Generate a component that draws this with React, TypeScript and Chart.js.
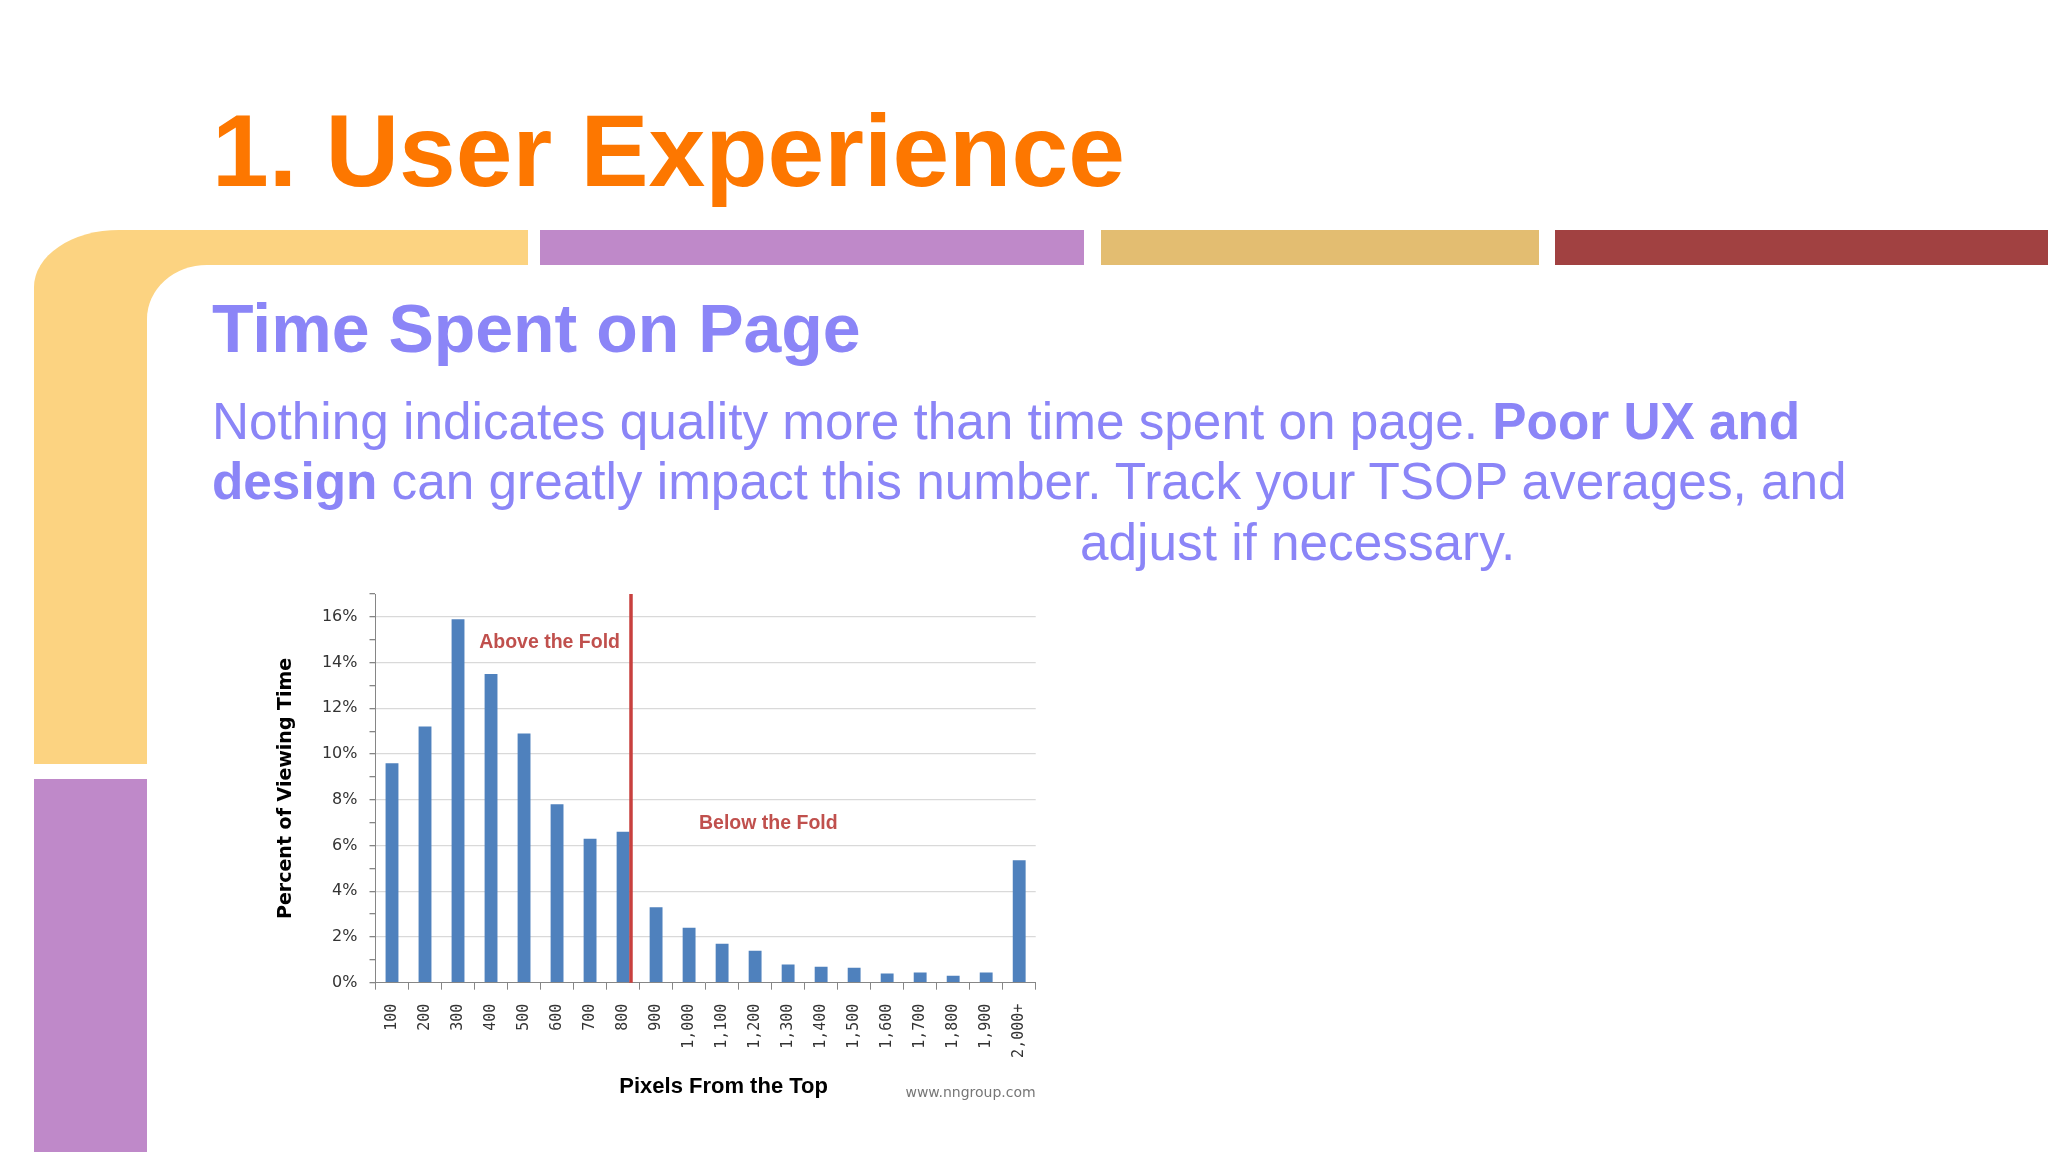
import React, { useEffect, useRef } from 'react';
import { Chart, registerables } from 'chart.js';

Chart.register(...registerables);

// ---- data ----
const categories = ['100', '200', '300', '400', '500', '600', '700', '800', '900', '1,000', '1,100', '1,200', '1,300', '1,400', '1,500', '1,600', '1,700', '1,800', '1,900', '2,000+'];
const viewingTimePct = [9.6, 11.2, 15.9, 13.5, 10.9, 7.8, 6.3, 6.6, 3.3, 2.4, 1.7, 1.4, 0.8, 0.7, 0.65, 0.4, 0.45, 0.3, 0.45, 5.35];
const yTickValues = [0, 2, 4, 6, 8, 10, 12, 14, 16];
const yAxisMax = 17;
const foldLinePixels = 824; // fold position, in pixels from the top of the page
const xAxisTitle = 'Pixels From the Top';
const yAxisTitle = 'Percent of Viewing Time';
const aboveLabel = 'Above the Fold';
const belowLabel = 'Below the Fold';
const sourceLabel = 'www.nngroup.com';

// ---- colours ----
const BAR = '#4f81bd';
const FOLD = '#c8403e';
const FOLD_TEXT = '#c0504d';
const AXIS = '#868686';
const GRID = '#d9d9d9';
const TEXT = '#333333';
const LAV = '#8b85f7';

const foldPlugin = {
  id: 'foldPlugin',
  afterDatasetsDraw(chart: any) {
    const { ctx, chartArea, scales } = chart;
    const x = scales.x.getPixelForValue((foldLinePixels - 100) / 100);
    ctx.save();
    ctx.strokeStyle = FOLD;
    ctx.lineWidth = 3.5;
    ctx.beginPath();
    ctx.moveTo(x, chartArea.top);
    ctx.lineTo(x, chartArea.bottom);
    ctx.stroke();

    ctx.fillStyle = FOLD_TEXT;
    ctx.font = 'bold 19.5px "Liberation Sans", Arial, sans-serif';
    ctx.textBaseline = 'alphabetic';
    ctx.textAlign = 'right';
    ctx.fillText(aboveLabel, x - 11, scales.y.getPixelForValue(14.65));
    ctx.textAlign = 'left';
    ctx.fillText(belowLabel, x + 68, scales.y.getPixelForValue(6.72));
    ctx.restore();
  },
  afterDraw(chart: any) {
    const { ctx, chartArea } = chart;
    ctx.save();
    ctx.fillStyle = '#000';
    ctx.font = 'bold 22px "Liberation Sans", Arial, sans-serif';
    ctx.textAlign = 'center';
    ctx.textBaseline = 'alphabetic';
    ctx.fillText(xAxisTitle, (chartArea.left + chartArea.right) / 2 + 18, chartArea.bottom + 110);
    ctx.fillStyle = '#777';
    ctx.font = '14px "DejaVu Sans", sans-serif';
    ctx.textAlign = 'right';
    ctx.fillText(sourceLabel, chartArea.right, chartArea.bottom + 114);
    ctx.restore();
  },
};

function ViewingTimeChart() {
  const canvasRef = useRef<HTMLCanvasElement>(null);
  useEffect(() => {
    const chart = new Chart(canvasRef.current as HTMLCanvasElement, {
      type: 'bar',
      data: {
        labels: categories,
        datasets: [
          {
            data: viewingTimePct,
            backgroundColor: BAR,
            borderWidth: 0,
            barPercentage: 0.39,
            categoryPercentage: 1,
          },
        ],
      },
      options: {
        animation: false,
        responsive: false,
        devicePixelRatio: 1,
        layout: { padding: { left: 0, right: 24.3, top: 14, bottom: 0 } },
        plugins: { legend: { display: false }, title: { display: false }, tooltip: { enabled: false } },
        scales: {
          x: {
            type: 'category',
            afterFit: (s: any) => { s.height = 137.3; },
            grid: { display: true, drawOnChartArea: false, drawTicks: true, tickLength: 7, tickColor: AXIS, offset: true },
            border: { display: true, color: AXIS, width: 1 },
            ticks: {
              autoSkip: false,
              minRotation: 90,
              maxRotation: 90,
              padding: 14,
              color: TEXT,
              font: { family: '"DejaVu Sans Mono", "Liberation Mono", monospace', size: 15 },
            },
          },
          y: {
            min: 0,
            max: yAxisMax,
            afterFit: (s: any) => {
              s.width = 115.5;
              s.paddingTop = 0;
              s.paddingBottom = 0;
            },
            grid: {
              color: (c: any) => (c.tick && c.tick.value !== 0 && yTickValues.includes(c.tick.value) ? GRID : 'rgba(0,0,0,0)'),
              tickColor: AXIS,
              tickLength: 6,
              lineWidth: 1.3,
            },
            border: { display: true, color: AXIS, width: 1 },
            ticks: {
              stepSize: 1,
              padding: 12,
              color: TEXT,
              font: { family: '"DejaVu Sans", sans-serif', size: 16 },
              callback: (v: any) => (yTickValues.includes(Number(v)) ? `${v}%` : ''),
            },
            title: {
              display: true,
              text: yAxisTitle,
              color: '#000',
              padding: { top: 15, bottom: 0 },
              font: { family: '"DejaVu Sans", sans-serif', size: 19, weight: 'bold' },
            },
          },
        },
      },
      plugins: [foldPlugin],
    } as any);
    return () => chart.destroy();
  }, []);
  return (
    <canvas
      ref={canvasRef}
      width={800}
      height={540}
      style={{ position: 'absolute', left: 260, top: 580, width: 800, height: 540 }}
    />
  );
}

const abs = (s: React.CSSProperties): React.CSSProperties => ({ position: 'absolute', ...s });
const textStyle = (left: number, top: number, size: number, color: string, weight: number | string = 'normal'): React.CSSProperties =>
  abs({ left, top, fontSize: size, lineHeight: 1, color, fontWeight: weight as any, whiteSpace: 'nowrap', margin: 0 });

export default function App() {
  return (
    <div
      style={{
        position: 'fixed',
        left: 0,
        top: 0,
        width: 2048,
        height: 1152,
        background: '#ffffff',
        overflow: 'hidden',
        fontFamily: '"Liberation Sans", Arial, sans-serif',
      }}
    >
      {/* decorative frame */}
      <div style={abs({ left: 34, top: 230, width: 494, height: 534, background: '#fcd381', borderTopLeftRadius: '85px 57px' })} />
      <div style={abs({ left: 147, top: 265, width: 1901, height: 887, background: '#ffffff', borderTopLeftRadius: '60px 54px' })} />
      <div style={abs({ left: 540, top: 230, width: 544, height: 35, background: '#bf89c9' })} />
      <div style={abs({ left: 1101, top: 230, width: 438, height: 35, background: '#e3bd71' })} />
      <div style={abs({ left: 1555, top: 230, width: 493, height: 35, background: '#a14141' })} />
      <div style={abs({ left: 34, top: 779, width: 113, height: 373, background: '#bf89c9' })} />

      {/* texts */}
      <div style={textStyle(212, 100, 102, '#fd7700', 'bold')}>1. User Experience</div>
      <div style={textStyle(212, 294, 68, LAV, 'bold')}>Time Spent on Page</div>
      <div style={textStyle(212, 396, 51.3, LAV)}>
        Nothing indicates quality more than time spent on page. <b>Poor UX and</b>
      </div>
      <div style={textStyle(212, 456, 51.3, LAV)}>
        <b>design</b> can greatly impact this number. Track your TSOP averages, and
      </div>
      <div style={textStyle(1080, 517, 51.3, LAV)}>adjust if necessary.</div>

      <ViewingTimeChart />
    </div>
  );
}
